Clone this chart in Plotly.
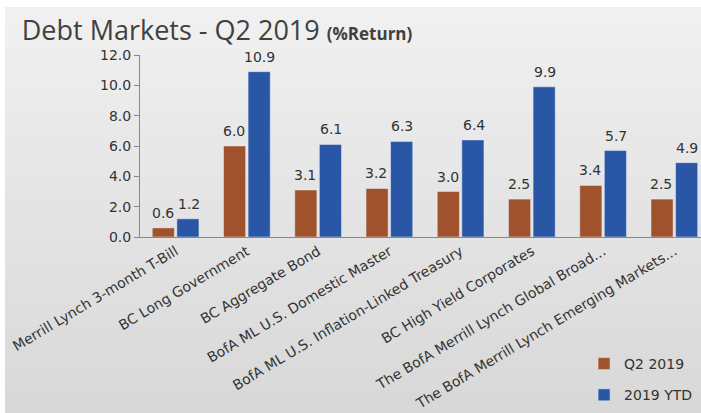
import plotly.graph_objects as go

categories = [
    "Merrill Lynch 3-month T-Bill",
    "BC Long Government",
    "BC Aggregate Bond",
    "BofA ML U.S. Domestic Master",
    "BofA ML U.S. Inflation-Linked Treasury",
    "BC High Yield Corporates",
    "The BofA Merrill Lynch Global Broad...",
    "The BofA Merrill Lynch Emerging Markets...",
]
q2_2019 = [0.6, 6.0, 3.1, 3.2, 3.0, 2.5, 3.4, 2.5]
ytd_2019 = [1.2, 10.9, 6.1, 6.3, 6.4, 9.9, 5.7, 4.9]
y_ticks = [0, 2, 4, 6, 8, 10, 12]

label_font = dict(size=14, color="#333333", family="DejaVu Sans")

W, H = 701, 413
ML, MR, MT, MB = 140, 0, 55, 176
PW, PH = W - ML - MR, H - MT - MB


def px_x(p):
    return (p - ML) / PW


def px_y(p):
    return 1 - (p - MT) / PH


fig = go.Figure()
fig.add_trace(go.Bar(
    x=categories, y=q2_2019, name="Q2 2019",
    marker_color="#a0522d", legendgroup="a",
))
fig.add_trace(go.Bar(
    x=categories, y=ytd_2019, name="2019 YTD",
    marker_color="#2a56a6", legendgroup="b",
))

for series, shift in ((q2_2019, -13), (ytd_2019, 13)):
    for cat, v in zip(categories, series):
        fig.add_annotation(
            x=cat, y=v, text=f"{v:.1f}", showarrow=False,
            xshift=shift, yshift=5, yanchor="bottom", font=label_font,
        )

# soft vertical background gradient (styling only)
n_bands = 20
top_px, bot_px = 7, H + 20
for i in range(n_bands):
    t = i / (n_bands - 1)
    c = int(round(240 + (215 - 240) * t))
    y0 = top_px + (bot_px - top_px) * i / n_bands
    y1 = top_px + (bot_px - top_px) * (i + 1) / n_bands + 1
    fig.add_shape(
        type="rect", xref="paper", yref="paper", layer="below",
        x0=px_x(5), x1=px_x(W + 20), y0=px_y(y1), y1=px_y(y0),
        fillcolor=f"rgb({c},{c},{c})", line_width=0,
    )

fig.update_layout(
    width=W, height=H,
    margin=dict(l=ML, r=MR, t=MT, b=MB),
    paper_bgcolor="#ffffff", plot_bgcolor="rgba(0,0,0,0)",
    barmode="group", bargap=0.31, bargroupgap=0.1,
    showlegend=True,
    legend=dict(x=0.993, y=-0.61, xanchor="right", yanchor="top",
                font=dict(size=14, color="#333333", family="DejaVu Sans"),
                bgcolor="rgba(0,0,0,0)", tracegroupgap=10, itemwidth=30),
    title=dict(
        text="Debt Markets - Q2 2019 <span style='font-size:17px;font-weight:bold'>(%Return)</span>",
        x=0.031, xanchor="left", y=0.925, yanchor="middle",
        font=dict(size=27, color="#404040", family="Open Sans"),
    ),
    font=dict(family="DejaVu Sans", color="#333333"),
)
fig.update_yaxes(
    range=[0, 12], tickvals=y_ticks, tickformat=".1f",
    showgrid=False, zeroline=False,
    showline=True, linecolor="#888888", linewidth=1,
    ticks="outside", ticklen=5, tickcolor="#888888",
    tickfont=dict(size=14, color="#333333", family="DejaVu Sans"),
)
fig.update_xaxes(
    range=[-0.5, 7.374], tickangle=-31, showgrid=False, automargin=False,
    showline=True, linecolor="#888888", linewidth=1,
    tickfont=dict(size=14, color="#333333", family="DejaVu Sans"),
)

fig.write_html("out.html")
